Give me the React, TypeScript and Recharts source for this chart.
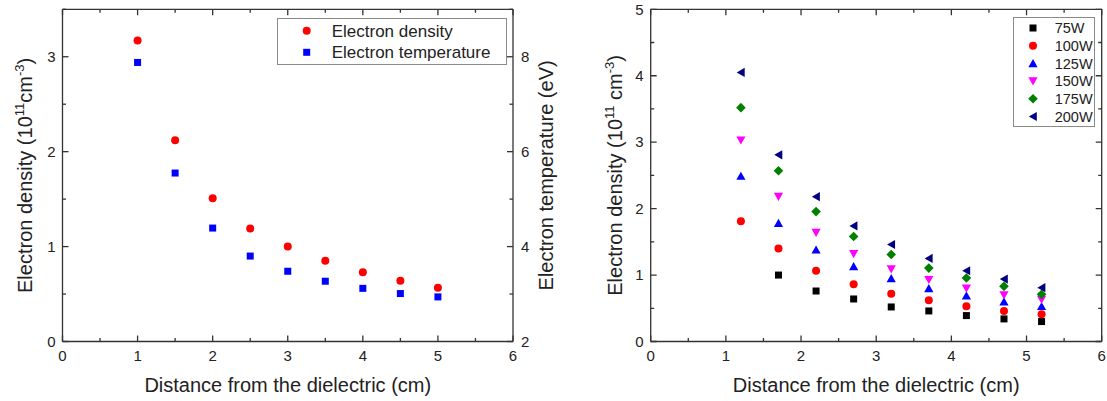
import React from 'react';
import { ScatterChart, Scatter, XAxis, YAxis, Legend, Label } from 'recharts';

const FONT = '"Liberation Sans", Arial, Helvetica, sans-serif';
const INK = '#222';
const AXIS = '#333333';

// ---- left panel data ----
const leftDistance = [1, 1.5, 2, 2.5, 3, 3.5, 4, 4.5, 5];
const electronDensity = [3.17, 2.12, 1.51, 1.19, 1.0, 0.85, 0.73, 0.64, 0.565];
const electronTemperature = [7.88, 5.55, 4.39, 3.8, 3.48, 3.27, 3.12, 3.01, 2.94];

// ---- right panel data (power series) ----
const rightDistance = [1.2, 1.7, 2.2, 2.7, 3.2, 3.7, 4.2, 4.7, 5.2];
const density75W = [null, 1.0, 0.76, 0.64, 0.52, 0.46, 0.39, 0.34, 0.3];
const density100W = [1.81, 1.4, 1.065, 0.86, 0.72, 0.62, 0.53, 0.46, 0.41];
const density125W = [2.49, 1.78, 1.38, 1.13, 0.95, 0.8, 0.69, 0.6, 0.53];
const density150W = [3.03, 2.18, 1.64, 1.32, 1.09, 0.93, 0.8, 0.7, 0.63];
const density175W = [3.52, 2.57, 1.955, 1.58, 1.31, 1.105, 0.955, 0.83, 0.71];
const density200W = [4.05, 2.81, 2.18, 1.74, 1.46, 1.25, 1.065, 0.94, 0.81];

// ---- ticks ----
const xTicks = [0, 0.5, 1, 1.5, 2, 2.5, 3, 3.5, 4, 4.5, 5, 5.5, 6];
const leftDensityTicks = [0, 0.5, 1, 1.5, 2, 2.5, 3, 3.5];
const temperatureTicks = [2, 3, 4, 5, 6, 7, 8, 9];
const rightDensityTicks = [0, 0.5, 1, 1.5, 2, 2.5, 3, 3.5, 4, 4.5, 5];

// plot frame (chart-relative px)
const PLOT_TOP = 9.3;
const PLOT_BOTTOM = 341.5;
const LEFT_PLOT = { left: 62.5, right: 513 };
const RIGHT_PLOT = { left: 90.7, right: 541.7 };

type Kind = 'circle' | 'square' | 'up' | 'down' | 'diamond' | 'left';

const toPoints = (xs: number[], ys: (number | null)[]) =>
  xs.map((x, i) => ({ x, y: ys[i] })).filter((p) => p.y !== null);

function Marker({ kind, cx, cy, color }: { kind: Kind; cx: number; cy: number; color: string }) {
  switch (kind) {
    case 'circle':
      return <circle cx={cx} cy={cy} r={4} fill={color} />;
    case 'square':
      return <rect x={cx - 3.5} y={cy - 3.5} width={7} height={7} fill={color} />;
    case 'up':
      return <polygon points={`${cx - 4.6},${cy + 3.8} ${cx + 4.6},${cy + 3.8} ${cx},${cy - 4.4}`} fill={color} />;
    case 'down':
      return <polygon points={`${cx - 4.6},${cy - 3.8} ${cx + 4.6},${cy - 3.8} ${cx},${cy + 4.4}`} fill={color} />;
    case 'diamond':
      return <polygon points={`${cx},${cy - 4.8} ${cx + 4.8},${cy} ${cx},${cy + 4.8} ${cx - 4.8},${cy}`} fill={color} />;
    case 'left':
      return <polygon points={`${cx - 4.2},${cy} ${cx + 3.8},${cy - 4.6} ${cx + 3.8},${cy + 4.6}`} fill={color} />;
  }
  return null;
}

const isInt = (v: number) => Math.abs(v - Math.round(v)) < 1e-9;
const tickLen = (major: boolean) => (major ? 6 : 3.5);

// inward tick + label; `mirror` also draws the matching inward tick on the opposite frame side
function makeTick(side: 'bottom' | 'left' | 'right', isMajor: (v: number) => boolean, mirror?: number) {
  return (props: any) => {
    const x = Number(props.x);
    const y = Number(props.y);
    const v = props.payload.value as number;
    const major = isMajor(v);
    const len = tickLen(major);
    const common = { fontFamily: FONT, fontSize: 15, fill: INK };
    let d = '';
    let label = null;
    if (side === 'bottom') {
      d = `M${x},${y}V${y - len}`;
      if (mirror !== undefined) d += `M${x},${mirror}V${mirror + len}`;
      if (major) label = <text x={x} y={y + 19} textAnchor="middle" {...common}>{v}</text>;
    }
    if (side === 'left') {
      d = `M${x},${y}H${x + len}`;
      if (mirror !== undefined) d += `M${mirror},${y}H${mirror - len}`;
      if (major) label = <text x={x - 7} y={y + 5.3} textAnchor="end" {...common}>{v}</text>;
    }
    if (side === 'right') {
      d = `M${x},${y}H${x - len}`;
      if (major) label = <text x={x + 8} y={y + 5.3} textAnchor="start" {...common}>{v}</text>;
    }
    return (
      <g>
        <path d={d} fill="none" stroke={AXIS} strokeWidth={1.3} />
        {label}
      </g>
    );
  };
}

const axisLine = { stroke: AXIS, strokeWidth: 1.3 };

const xTitle = (cx: number) => () => (
  <text x={cx} y={391.5} textAnchor="middle" fontFamily={FONT} fontSize={20} fill={INK}>
    Distance from the dielectric (cm)
  </text>
);

function VerticalTitle({ x, cy, parts }: { x: number; cy: number; parts: { t: string; sup?: boolean }[] }) {
  let prevSup = false;
  return (
    <text
      x={x}
      y={cy}
      transform={`rotate(-90, ${x}, ${cy})`}
      textAnchor="middle"
      fontFamily={FONT}
      fontSize={20}
      fill={INK}
    >
      {parts.map((p, i) => {
        const dy = p.sup && !prevSup ? -7.5 : !p.sup && prevSup ? 7.5 : 0;
        prevSup = !!p.sup;
        return (
          <tspan key={i} dy={dy} fontSize={p.sup ? 13 : 20}>
            {p.t}
          </tspan>
        );
      })}
    </text>
  );
}

// top border (and right border when the panel has no right axis) of the plot frame
function FrameOverlay({ width, left, right, withRight }: { width: number; left: number; right: number; withRight: boolean }) {
  return (
    <svg width={width} height={401} style={{ position: 'absolute', left: 0, top: 0, pointerEvents: 'none' }}>
      <path
        d={withRight ? `M${left},${PLOT_TOP}H${right}V${PLOT_BOTTOM}` : `M${left},${PLOT_TOP}H${right}`}
        fill="none"
        stroke={AXIS}
        strokeWidth={1.3}
      />
    </svg>
  );
}

const LeftLegend = () => (
  <svg width={230} height={47} style={{ display: 'block' }}>
    <rect x={0.5} y={0.5} width={229} height={46} fill="#fff" stroke="#8a8a8a" strokeWidth={1} />
    <Marker kind="circle" color="#ff0000" cx={29.7} cy={12.7} />
    <text x={54.7} y={18.8} fontFamily={FONT} fontSize={17} fill={INK}>Electron density</text>
    <Marker kind="square" color="#0000ff" cx={29.7} cy={34.3} />
    <text x={54.7} y={40.4} fontFamily={FONT} fontSize={17} fill={INK}>Electron temperature</text>
  </svg>
);

const powerSeries: { name: string; values: (number | null)[]; color: string; kind: Kind }[] = [
  { name: '75W', values: density75W, color: '#000000', kind: 'square' },
  { name: '100W', values: density100W, color: '#ff0000', kind: 'circle' },
  { name: '125W', values: density125W, color: '#0000ff', kind: 'up' },
  { name: '150W', values: density150W, color: '#ff00ff', kind: 'down' },
  { name: '175W', values: density175W, color: '#008000', kind: 'diamond' },
  { name: '200W', values: density200W, color: '#000080', kind: 'left' },
];

const RightLegend = () => (
  <svg width={82} height={110} style={{ display: 'block' }}>
    <rect x={0.5} y={0.5} width={81} height={109} fill="#fff" stroke="#8a8a8a" strokeWidth={1} />
    {powerSeries.map((s, i) => {
      const cy = 11 + i * 17.7;
      return (
        <g key={s.name}>
          <Marker kind={s.kind} color={s.color} cx={20} cy={cy} />
          <text x={41.7} y={cy + 5.1} fontFamily={FONT} fontSize={14.5} fill={INK}>{s.name}</text>
        </g>
      );
    })}
  </svg>
);

function LeftPanel() {
  return (
    <ScatterChart width={560} height={401} margin={{ top: PLOT_TOP, right: 0, bottom: 0, left: 0 }}>
      <XAxis xAxisId="b" type="number" dataKey="x" domain={[0, 6]} ticks={xTicks} interval={0}
        height={401 - PLOT_BOTTOM} tickSize={0} tickMargin={0} axisLine={axisLine} tickLine={false}
        tick={makeTick('bottom', isInt, PLOT_TOP)}>
        <Label content={xTitle(287.75)} />
      </XAxis>
      <YAxis yAxisId="l" type="number" dataKey="y" domain={[0, 3.5]} ticks={leftDensityTicks} interval={0}
        width={LEFT_PLOT.left} tickSize={0} tickMargin={0} axisLine={axisLine} tickLine={false}
        tick={makeTick('left', isInt)}>
        <Label content={() => (
          <VerticalTitle x={32} cy={175.4} parts={[
            { t: 'Electron density (10' }, { t: '11', sup: true }, { t: 'cm' }, { t: '-3', sup: true }, { t: ')' },
          ]} />
        )} />
      </YAxis>
      <YAxis yAxisId="r" orientation="right" type="number" dataKey="y" domain={[2, 9]} ticks={temperatureTicks} interval={0}
        width={560 - LEFT_PLOT.right} tickSize={0} tickMargin={0} axisLine={axisLine} tickLine={false}
        tick={makeTick('right', (v) => v % 2 === 0 && v < 9)}>
        <Label content={() => (
          <VerticalTitle x={553} cy={175.4} parts={[{ t: 'Electron temperature (eV)' }]} />
        )} />
      </YAxis>
      <Legend layout="horizontal" verticalAlign="middle" align="center" content={LeftLegend}
        wrapperStyle={{ left: 277, top: 18, width: 230, height: 47 }} />
      <Scatter name="Electron density" xAxisId="b" yAxisId="l" data={toPoints(leftDistance, electronDensity)}
        isAnimationActive={false}
        shape={(p: any) => <Marker kind="circle" color="#ff0000" cx={p.cx} cy={p.cy} />} />
      <Scatter name="Electron temperature" xAxisId="b" yAxisId="r" data={toPoints(leftDistance, electronTemperature)}
        isAnimationActive={false}
        shape={(p: any) => <Marker kind="square" color="#0000ff" cx={p.cx} cy={p.cy} />} />
    </ScatterChart>
  );
}

function RightPanel() {
  return (
    <ScatterChart width={547} height={401} margin={{ top: PLOT_TOP, right: 547 - RIGHT_PLOT.right, bottom: 0, left: 0 }}>
      <XAxis xAxisId="b" type="number" dataKey="x" domain={[0, 6]} ticks={xTicks} interval={0}
        height={401 - PLOT_BOTTOM} tickSize={0} tickMargin={0} axisLine={axisLine} tickLine={false}
        tick={makeTick('bottom', isInt, PLOT_TOP)}>
        <Label content={xTitle(316.2)} />
      </XAxis>
      <YAxis yAxisId="l" type="number" dataKey="y" domain={[0, 5]} ticks={rightDensityTicks} interval={0}
        width={RIGHT_PLOT.left} tickSize={0} tickMargin={0} axisLine={axisLine} tickLine={false}
        tick={makeTick('left', isInt, RIGHT_PLOT.right)}>
        <Label content={() => (
          <VerticalTitle x={62} cy={175.4} parts={[
            { t: 'Electron density (10' }, { t: '11', sup: true }, { t: ' cm' }, { t: '-3', sup: true }, { t: ')' },
          ]} />
        )} />
      </YAxis>
      <Legend layout="horizontal" verticalAlign="middle" align="center" content={RightLegend}
        wrapperStyle={{ left: 453.3, top: 17.3, width: 82, height: 110 }} />
      {powerSeries.map((s) => (
        <Scatter key={s.name} name={s.name} xAxisId="b" yAxisId="l"
          data={toPoints(rightDistance, s.values)}
          isAnimationActive={false}
          shape={(p: any) => <Marker kind={s.kind} color={s.color} cx={p.cx} cy={p.cy} />} />
      ))}
    </ScatterChart>
  );
}

export default function App() {
  return (
    <div style={{ position: 'absolute', left: 0, top: 0, width: 1107, height: 401, background: '#fff' }}>
      <div style={{ position: 'absolute', left: 0, top: 0, width: 560, height: 401 }}>
        <LeftPanel />
        <FrameOverlay width={560} left={LEFT_PLOT.left} right={LEFT_PLOT.right} withRight={false} />
      </div>
      <div style={{ position: 'absolute', left: 560, top: 0, width: 547, height: 401 }}>
        <RightPanel />
        <FrameOverlay width={547} left={RIGHT_PLOT.left} right={RIGHT_PLOT.right} withRight={true} />
      </div>
    </div>
  );
}
